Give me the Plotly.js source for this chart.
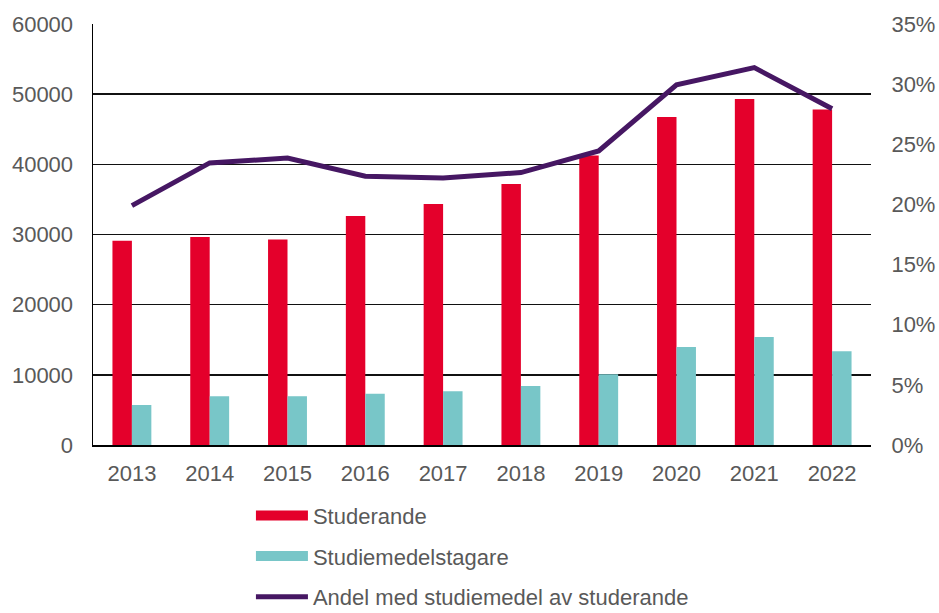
<!DOCTYPE html>
<html>
<head>
<meta charset="utf-8">
<script src="https://cdn.plot.ly/plotly-3.0.1.min.js"></script>
<style>html,body{margin:0;padding:0;background:#fff;}#chart{width:939px;height:613px;}</style>
</head>
<body>
<div id="chart"></div>
<script>
const years = ['2013','2014','2015','2016','2017','2018','2019','2020','2021','2022'];
const studerande = [29100, 29650, 29300, 32650, 34350, 37200, 41250, 46750, 49300, 47800];
const studiemedelstagare = [5700, 6950, 6950, 7300, 7650, 8400, 10100, 13950, 15400, 13350];
const andel = [0.199, 0.2345, 0.2385, 0.2235, 0.222, 0.2265, 0.2445, 0.2995, 0.3137, 0.2795];
const leftTicks = [0, 10000, 20000, 30000, 40000, 50000, 60000];
const rightTicks = [0, 0.05, 0.10, 0.15, 0.20, 0.25, 0.30, 0.35];

const RED = '#E4002B', CYAN = '#78C6C8', PURPLE = '#461763';
const FONT = {family: 'Liberation Sans, Arial, sans-serif', size: 22, color: '#595959'};

const traces = [
  {type: 'bar', x: years, y: studerande, name: 'Studerande', marker: {color: RED}, showlegend: false},
  {type: 'bar', x: years, y: studiemedelstagare, name: 'Studiemedelstagare', marker: {color: CYAN}, showlegend: false},
  {type: 'scatter', mode: 'lines', x: years, y: andel, yaxis: 'y2', name: 'Andel med studiemedel av studerande',
   line: {color: PURPLE, width: 5}, showlegend: false},
  // legend entries (no data)
  {type: 'scatter', mode: 'lines', x: [null], y: [null], name: 'Studerande', line: {color: RED, width: 11}, legendgroup: 'a'},
  {type: 'scatter', mode: 'lines', x: [null], y: [null], name: 'Studiemedelstagare', line: {color: CYAN, width: 11}, legendgroup: 'b'},
  {type: 'scatter', mode: 'lines', x: [null], y: [null], name: 'Andel med studiemedel av studerande', line: {color: PURPLE, width: 5}, legendgroup: 'c'}
];

const layout = {
  width: 939, height: 613,
  margin: {l: 93, r: 68, t: 24, b: 168, autoexpand: false},
  paper_bgcolor: '#fff', plot_bgcolor: '#fff',
  font: FONT,
  barmode: 'group', bargap: 0.5, bargroupgap: 0,
  xaxis: {type: 'category', showgrid: false, showline: true, linecolor: '#000', linewidth: 1.5,
          ticks: 'outside', ticklen: 8, tickcolor: 'rgba(0,0,0,0)', tickfont: FONT, zeroline: false},
  yaxis: {range: [0, 60000], tickvals: leftTicks, ticktext: leftTicks.map(String),
          showgrid: true, gridcolor: '#111', gridwidth: 1.5, showline: true, linecolor: '#000', linewidth: 1.5,
          ticks: 'outside', ticklen: 14, tickcolor: 'rgba(0,0,0,0)', tickfont: FONT, zeroline: false, fixedrange: true},
  yaxis2: {range: [0, 0.35], tickvals: rightTicks, tickformat: '.0%', overlaying: 'y', side: 'right',
           showgrid: false, showline: false, zeroline: false,
           ticks: 'outside', ticklen: 15, tickcolor: 'rgba(0,0,0,0)', tickfont: FONT},
  showlegend: true,
  legend: {x: 0.203, xanchor: 'left', y: -0.118, yanchor: 'top', orientation: 'v',
           font: FONT, itemwidth: 52, tracegroupgap: 9, bgcolor: 'rgba(0,0,0,0)', traceorder: 'grouped'}
};

Plotly.newPlot('chart', traces, layout, {displayModeBar: false, staticPlot: true});
</script>
</body>
</html>
